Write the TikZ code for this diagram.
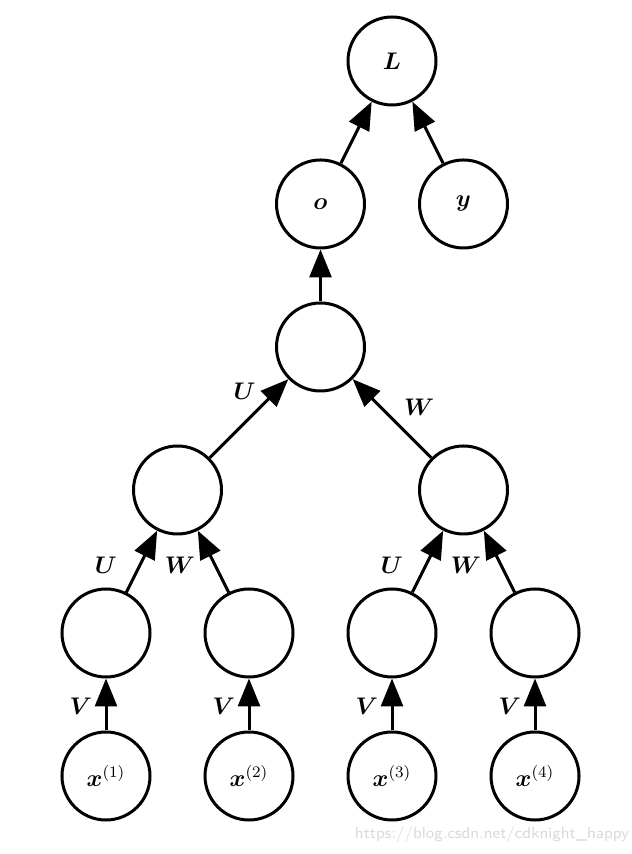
\documentclass[tikz,border=0pt]{standalone}
\usepackage{amsmath,amssymb,bm}
\usepackage{tikz}
\usetikzlibrary{positioning,calc,arrows.meta}

\begin{document}
\begin{tikzpicture}[node distance=26pt,
    every node/.style={font=\fontsize{12}{14}\selectfont},
    unit/.style={draw, circle, minimum size=44pt, inner sep=0pt, line width=1.5pt},
    lbl/.style={inner sep=3.3pt},
    >={Triangle[length=14pt,width=11pt]}, line width=1.5pt]
    % inputs and leaves
    \node[unit] (x1) {$\bm{x}^{(1)}$};
    \node[unit, right=of x1] (x2) {$\bm{x}^{(2)}$};
    \node[unit, right=of x2] (x3) {$\bm{x}^{(3)}$};
    \node[unit, right=of x3] (x4) {$\bm{x}^{(4)}$};
    \node[unit, above=of x1] (h1) {};
    \node[unit, above=of x2] (h2) {};
    \node[unit, above=of x3] (h3) {};
    \node[unit, above=of x4] (h4) {};
    % inner tree nodes
    \node[unit, above=of $(h1.north)!.5!(h2.north)$] (g1) {};
    \node[unit, above=of $(h3.north)!.5!(h4.north)$] (g2) {};
    \node[unit, above=of $(g1.north)!.5!(g2.north)$] (top) {};
    \node[unit, above=of top] (out) {$\bm{o}$};
    \node[unit, right=of out] (tgt) {$\bm{y}$};
    \node[unit, above=of $(out.north)!.5!(tgt.north)$] (loss) {$\bm{L}$};

    \useasboundingbox ($(x1)+(-53pt,-39pt)$) rectangle ($(x1)+(262.5pt,388pt)$);
    \node[text=gray!30, font=\sffamily\fontsize{8}{9}\selectfont] (mark) at ($(x1)+(193pt,-29.5pt)$) {https://blog.csdn.net/cdknight\_happy};

    \draw[->] (x1) -- node[lbl, left=3pt, pos=.47] {$\bm{V}$} (h1);
    \draw[->] (x2) -- node[lbl, left=3pt, pos=.47] {$\bm{V}$} (h2);
    \draw[->] (x3) -- node[lbl, left=3pt, pos=.47] {$\bm{V}$} (h3);
    \draw[->] (x4) -- node[lbl, left=3pt, pos=.47] {$\bm{V}$} (h4);

    \draw[->] (h1) -- node[lbl, left=7.5pt, pos=.44] {$\bm{U}$} (g1);
    \draw[->] (h2) -- node[lbl, left=6pt, pos=.44] {$\bm{W}$} (g1);
    \draw[->] (h3) -- node[lbl, left=7.5pt, pos=.44] {$\bm{U}$} (g2);
    \draw[->] (h4) -- node[lbl, left=6pt, pos=.44] {$\bm{W}$} (g2);

    \draw[->] (g1) -- node[lbl, left=6pt, pos=.84] {$\bm{U}$} (top);
    \draw[->] (g2) -- node[lbl, right=7.5pt, pos=.64] {$\bm{W}$} (top);

    \draw[->] (top) -- (out);
    \draw[->] (out) -- (loss);
    \draw[->] (tgt) -- (loss);
  \end{tikzpicture}
\end{document}
